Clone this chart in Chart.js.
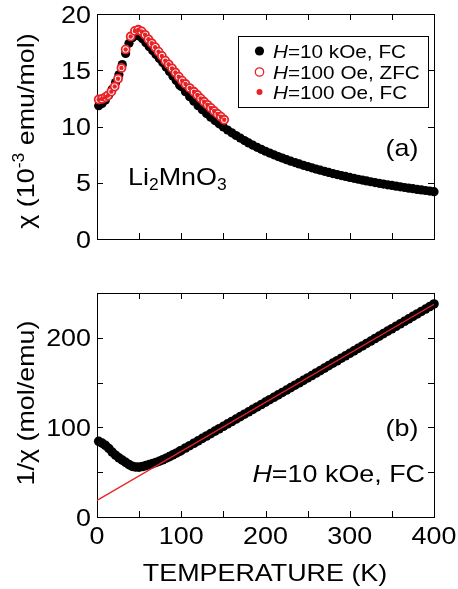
<!DOCTYPE html>
<html>
<head>
<meta charset="utf-8">
<script src="https://cdn.jsdelivr.net/npm/chart.js@4.4.0/dist/chart.umd.min.js"></script>
<style>
  body { margin: 0; background: #fff; }
  #wrap { position: relative; width: 458px; height: 589px; }
  canvas { position: absolute; left: 0; top: 0; }
</style>
</head>
<body>
<div id="wrap">
  <canvas id="chiChart" width="458" height="589"></canvas>
  <canvas id="invChart" width="458" height="589"></canvas>
</div>
<script>
// H = 10 kOe, field cooled (both panels)
const tempFC = [2, 6, 10, 14, 18, 22, 26, 30, 34, 38, 42, 46, 50, 54, 58, 62, 66, 70, 74, 78, 82, 86, 90, 94, 98,
  100, 105, 110, 115, 120, 125, 130, 135, 140, 145, 150, 155, 160, 165, 170, 175, 180, 185, 190, 195,
  200, 205, 210, 215, 220, 225, 230, 235, 240, 245, 250, 255, 260, 265, 270, 275, 280, 285, 290, 295,
  300, 305, 310, 315, 320, 325, 330, 335, 340, 345, 350, 355, 360, 365, 370, 375, 380, 385, 390, 395, 400];
const chiFC = [11.85, 12.05, 12.35, 12.8, 13.3, 13.9, 14.6, 15.5, 16.5, 17.4, 17.9, 18.1, 18.05, 17.8, 17.45,
  17.1, 16.75, 16.4, 16.05, 15.7, 15.3, 14.9, 14.5, 14.1, 13.7,
  13.55, 13.1, 12.65, 12.25, 11.85, 11.5, 11.15, 10.83, 10.53, 10.24,
  9.96, 9.69, 9.44, 9.2, 8.97, 8.75, 8.54, 8.34, 8.15, 7.97,
  7.8, 7.64, 7.48, 7.33, 7.19, 7.05, 6.92, 6.79, 6.67, 6.55,
  6.44, 6.33, 6.22, 6.12, 6.02, 5.92, 5.82, 5.73, 5.64, 5.56,
  5.47, 5.39, 5.31, 5.24, 5.16, 5.09, 5.02, 4.95, 4.88, 4.82,
  4.76, 4.7, 4.64, 4.58, 4.52, 4.47, 4.41, 4.36, 4.31, 4.26, 4.21];
const invChiFC = [84.5, 82.5, 80, 76.5, 72.5, 69, 66, 63.5, 61, 58.5, 56.5, 55.8, 55.7, 56.3, 57.3,
  58.4, 59.6, 60.9, 62.3, 63.9, 65.6, 67.4, 69.3, 71.2, 73.3,
  74.3, 77.0, 79.6, 82.3, 85.0, 87.7, 90.4, 93.1, 95.8, 98.5,
  101.2, 103.9, 106.6, 109.3, 112.0, 114.7, 117.4, 120.1, 122.8, 125.5,
  128.2, 130.9, 133.6, 136.3, 139.0, 141.7, 144.4, 147.1, 149.8, 152.5,
  155.2, 157.9, 160.7, 163.4, 166.2, 168.9, 171.7, 174.4, 177.2, 179.9,
  182.7, 185.4, 188.2, 190.9, 193.7, 196.4, 199.2, 201.9, 204.7, 207.4,
  210.1, 212.9, 215.6, 218.4, 221.1, 223.9, 226.6, 229.4, 232.1, 234.9, 237.8];

// H = 100 Oe, ZFC and FC
const tempLow = [2, 6, 10, 13, 17, 21, 25, 29, 34, 40, 45, 49, 53, 57, 61, 65, 69, 73, 77, 81, 85, 89, 93, 97,
  101, 105, 110, 115, 119, 123, 127, 131, 135, 139, 143, 147, 151];
const chiZFC = [12.4, 12.45, 12.6, 12.75, 13.1, 13.55, 14.25, 15.2, 16.85, 18.0, 18.5, 18.6, 18.45, 18.15, 17.75,
  17.4, 17.05, 16.65, 16.27, 15.85, 15.53, 15.17, 14.8, 14.43, 14.07, 13.78, 13.42, 13.09, 12.8, 12.5,
  12.2, 11.93, 11.65, 11.38, 11.12, 10.87, 10.6];
const chiFCLow = [12.4, 12.45, 12.6, 12.75, 13.1, 13.55, 14.25, 15.2, 16.85, 18.0, 18.5, 18.6, 18.45, 18.15, 17.75,
  17.4, 17.05, 16.65, 16.27, 15.85, 15.53, 15.17, 14.8, 14.43, 14.07, 13.78, 13.42, 13.09, 12.8, 12.5,
  12.2, 11.93, 11.65, 11.38, 11.12, 10.87, 10.6];

// Curie-Weiss fit line
const fitT = [0, 400];
const fitInv = [18.5, 237.5];

// ticks
const tempTicks = [0, 50, 100, 150, 200, 250, 300, 350, 400];
const tempLabels = [0, 100, 200, 300, 400];
const chiTicks = [0, 5, 10, 15, 20];
const chiLabels = [0, 5, 10, 15, 20];
const invTicks = [0, 50, 100, 150, 200, 250];
const invLabels = [0, 100, 200];

const RED = 'rgb(232,35,40)';
const FONT = '"Liberation Sans", Arial, Helvetica, sans-serif';
const SX = 1.12;   // wide lettering
const FS = 24;
const TICK = 6;

const pts = (xs, ys) => xs.map((x, i) => ({ x: x, y: ys[i] }));

function partFont(p, size) {
  const s = (p.sub || p.sup) ? size * 0.65 : size;
  return (p.it ? 'italic ' : '') + s + 'px ' + FONT;
}

function richWidth(ctx, parts, size) {
  let w = 0;
  for (const p of parts) {
    ctx.font = partFont(p, size);
    w += ctx.measureText(p.t).width;
  }
  return w * SX;
}

// y is the baseline; rot rotates around (x, y)
function drawRich(ctx, parts, x, y, size, align, rot) {
  const w = richWidth(ctx, parts, size);
  ctx.save();
  ctx.translate(x, y);
  if (rot) ctx.rotate(rot);
  ctx.translate(align === 'center' ? -w / 2 : align === 'right' ? -w : 0, 0);
  ctx.scale(SX, 1);
  ctx.textAlign = 'left';
  ctx.textBaseline = 'alphabetic';
  ctx.fillStyle = '#000';
  let cx = 0;
  for (const p of parts) {
    ctx.font = partFont(p, size);
    const dy = p.sub ? size * 0.22 : p.sup ? -size * 0.4 : 0;
    ctx.fillText(p.t, cx, dy);
    cx += ctx.measureText(p.t).width;
  }
  ctx.restore();
}

function boxAxes(xTicks, yTicks, drawText) {
  return {
    id: 'boxAxes',
    beforeDatasetsDraw(chart) {
      const { ctx, chartArea: a, scales } = chart;
      ctx.save();
      ctx.strokeStyle = '#000';
      ctx.lineWidth = 1;
      ctx.strokeRect(a.left + 0.5, a.top + 0.5, a.right - a.left, a.bottom - a.top);
      ctx.beginPath();
      for (const v of xTicks) {
        const px = Math.round(scales.x.getPixelForValue(v)) + 0.5;
        ctx.moveTo(px, a.bottom); ctx.lineTo(px, a.bottom - TICK);
        ctx.moveTo(px, a.top); ctx.lineTo(px, a.top + TICK);
      }
      for (const v of yTicks) {
        const py = Math.round(scales.y.getPixelForValue(v)) + 0.5;
        ctx.moveTo(a.left, py); ctx.lineTo(a.left + TICK, py);
        ctx.moveTo(a.right, py); ctx.lineTo(a.right - TICK, py);
      }
      ctx.stroke();
      ctx.restore();
    },
    afterDraw(chart) { drawText(chart); }
  };
}

function yLabels(chart, values) {
  const ctx = chart.ctx;
  for (const v of values) {
    const py = chart.scales.y.getPixelForValue(v);
    drawRich(ctx, [{ t: String(v) }], 91, py + 8.5, FS, 'right');
  }
}

const hiddenScales = (xmin, xmax, ymin, ymax) => ({
  x: { type: 'linear', min: xmin, max: xmax, display: false },
  y: { type: 'linear', min: ymin, max: ymax, display: false }
});

const common = {
  responsive: false,
  animation: false,
  events: [],
  plugins: { legend: { display: false }, tooltip: { enabled: false } }
};

// (a) susceptibility
new Chart(document.getElementById('chiChart'), {
  type: 'scatter',
  data: {
    datasets: [
      { label: 'H=100 Oe, FC', data: pts(tempLow, chiFCLow), order: 1, clip: false,
        pointRadius: 2.2, pointBackgroundColor: RED, pointBorderWidth: 0 },
      { label: 'H=100 Oe, ZFC', data: pts(tempLow, chiZFC), order: 2, clip: false,
        pointRadius: 4, pointBackgroundColor: '#fff', pointBorderColor: RED, pointBorderWidth: 1.8 },
      { label: 'H=10 kOe, FC', data: pts(tempFC, chiFC), order: 3, clip: false,
        pointRadius: 4.6, pointBackgroundColor: '#000', pointBorderWidth: 0 }
    ]
  },
  options: Object.assign({}, common, {
    layout: { padding: { left: 97, top: 14, right: 24, bottom: 350 } },
    scales: hiddenScales(0, 400, 0, 20)
  }),
  plugins: [boxAxes(tempTicks, chiTicks, chart => {
    const ctx = chart.ctx;
    yLabels(chart, chiLabels);
    drawRich(ctx, [{ t: 'χ (10' }, { t: '-3', sup: true }, { t: ' emu/mol)' }], 34, 131, FS, 'center', -Math.PI / 2);
    drawRich(ctx, [{ t: '(a)' }], 402, 156, FS, 'center');
    drawRich(ctx, [{ t: 'Li' }, { t: '2', sub: true }, { t: 'MnO' }, { t: '3', sub: true }], 128, 185, FS, 'left');

    // legend box
    ctx.save();
    ctx.strokeStyle = '#000';
    ctx.lineWidth = 1;
    ctx.strokeRect(238.5, 36.5, 190, 71);
    ctx.fillStyle = '#000';
    ctx.beginPath(); ctx.arc(259.5, 51, 4.6, 0, 2 * Math.PI); ctx.fill();
    ctx.fillStyle = '#fff';
    ctx.strokeStyle = RED;
    ctx.lineWidth = 1.3;
    ctx.beginPath(); ctx.arc(259.5, 72, 4.2, 0, 2 * Math.PI); ctx.fill(); ctx.stroke();
    ctx.fillStyle = RED;
    ctx.beginPath(); ctx.arc(259.5, 92, 3, 0, 2 * Math.PI); ctx.fill();
    ctx.restore();
    drawRich(ctx, [{ t: 'H', it: true }, { t: '=10 kOe, FC' }], 273, 57.5, 18.5, 'left');
    drawRich(ctx, [{ t: 'H', it: true }, { t: '=100 Oe, ZFC' }], 273, 78.5, 18.5, 'left');
    drawRich(ctx, [{ t: 'H', it: true }, { t: '=100 Oe, FC' }], 273, 98.5, 18.5, 'left');
  })]
});

// (b) inverse susceptibility
new Chart(document.getElementById('invChart'), {
  type: 'scatter',
  data: {
    datasets: [
      { label: 'Curie-Weiss fit', data: pts(fitT, fitInv), order: 1, showLine: true, clip: false,
        borderColor: RED, borderWidth: 1.3, pointRadius: 0 },
      { label: 'H=10 kOe, FC', data: pts(tempFC, invChiFC), order: 2, clip: false,
        pointRadius: 4.8, pointBackgroundColor: '#000', pointBorderWidth: 0 }
    ]
  },
  options: Object.assign({}, common, {
    layout: { padding: { left: 97, top: 293, right: 24, bottom: 72 } },
    scales: hiddenScales(0, 400, 0, 250)
  }),
  plugins: [boxAxes(tempTicks, invTicks, chart => {
    const ctx = chart.ctx;
    yLabels(chart, invLabels);
    for (const v of tempLabels) {
      drawRich(ctx, [{ t: String(v) }], chart.scales.x.getPixelForValue(v), 544, FS, 'center');
    }
    drawRich(ctx, [{ t: 'TEMPERATURE (K)' }], 265, 581, FS, 'center');
    drawRich(ctx, [{ t: '1/χ (mol/emu)' }], 34, 403, FS, 'center', -Math.PI / 2);
    drawRich(ctx, [{ t: '(b)' }], 402, 436, FS, 'center');
    drawRich(ctx, [{ t: 'H', it: true }, { t: '=10 kOe, FC' }], 425, 482, FS, 'right');
  })]
});
</script>
</body>
</html>
